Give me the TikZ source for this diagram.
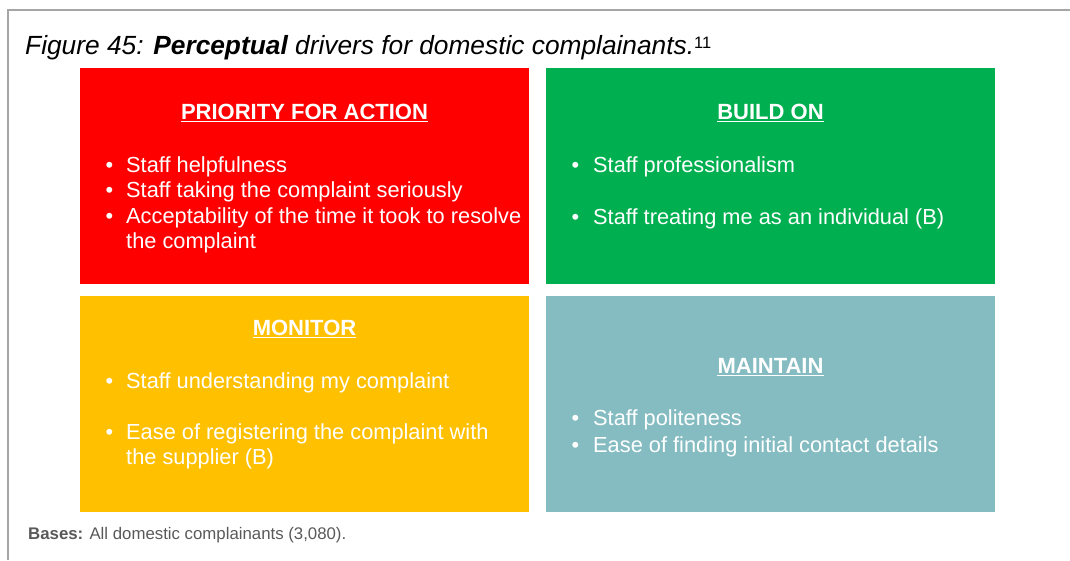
\documentclass[tikz,border=0pt]{standalone}
\usepackage{fontspec}
\setmainfont{Liberation Sans}
\definecolor{cRed}{HTML}{FF0000}
\definecolor{cGreen}{HTML}{00B050}
\definecolor{cYellow}{HTML}{FFC000}
\definecolor{cTeal}{HTML}{84BCC1}
\definecolor{cFrame}{HTML}{A6A6A6}
\definecolor{cNote}{HTML}{595959}
\begin{document}
\begin{tikzpicture}[x=1pt,y=-1pt,
  quad/.style={fill=#1, draw=none, minimum width=449pt, minimum height=216pt, inner sep=0pt, outer sep=0pt, anchor=north west},
  head/.style={text=white, font=\fontsize{22}{24}\selectfont\bfseries, inner sep=0pt, anchor=base},
  item/.style={text=white, font=\fontsize{21.8}{25}\selectfont, inner sep=0pt, anchor=base west},
  bul/.style={text=white, font=\fontsize{21.8}{25}\selectfont, inner sep=0pt, anchor=base},
  uline/.style={white, line width=1.6pt},
  frame/.style={cFrame, line width=2pt}]
\useasboundingbox (0,0) rectangle (1070,560);
% frame
\coordinate (fTL) at (8,10);
\coordinate (fTR) at (1070,10);
\coordinate (fBL) at (8,560);
\draw[frame] (fTR) -- (fTL) -- (fBL);
% title
\node[inner sep=0pt, anchor=base west, font=\fontsize{26.3}{28}\selectfont\itshape] (title) at (25,54)
  {Figure 45: \textbf{Perceptual} drivers for domestic complainants.\raisebox{6pt}{\upshape\fontsize{16.5}{16}\selectfont 11}};
% quadrants
\node[quad=cRed] (qA) at (80,68) {};
\node[quad=cGreen] (qB) at (546,68) {};
\node[quad=cYellow] (qC) at (80,296) {};
\node[quad=cTeal] (qD) at (546,296) {};
% headings
\node[head] (hA) at (304.5,119) {PRIORITY FOR ACTION};
\node[head] (hB) at (770.5,119) {BUILD ON};
\node[head] (hC) at (304.5,335) {MONITOR};
\node[head] (hD) at (770.5,373) {MAINTAIN};
\foreach \h in {hA,hB,hC,hD}{
  \draw[uline] ([yshift=-2.6pt]\h.base west) -- ([yshift=-2.6pt]\h.base east);
}
% red items
\node[bul] (bA1) at (109.5,172) {•};
\node[item] (tA1) at (126,172) {Staff helpfulness};
\node[bul] (bA2) at (109.5,197.5) {•};
\node[item] (tA2) at (126,197.5) {Staff taking the complaint seriously};
\node[bul] (bA3) at (109.5,223) {•};
\node[item] (tA3) at (126,223) {Acceptability of the time it took to resolve};
\node[item] (tA4) at (126,248.5) {the complaint};
% green items
\node[bul] (bB1) at (575.5,172) {•};
\node[item] (tB1) at (593,172) {Staff professionalism};
\node[bul] (bB2) at (575.5,224) {•};
\node[item] (tB2) at (593,224) {Staff treating me as an individual (B)};
% yellow items
\node[bul] (bC1) at (109.5,388) {•};
\node[item] (tC1) at (126,388) {Staff understanding my complaint};
\node[bul] (bC2) at (109.5,439) {•};
\node[item] (tC2) at (126,439) {Ease of registering the complaint with};
\node[item] (tC3) at (126,464) {the supplier (B)};
% teal items
\node[bul] (bD1) at (575.5,425.5) {•};
\node[item] (tD1) at (593,425.5) {Staff politeness};
\node[bul] (bD2) at (575.5,452.5) {•};
\node[item] (tD2) at (593,452.5) {Ease of finding initial contact details};
% bases note
\node[inner sep=0pt, anchor=base west, text=cNote, font=\fontsize{16.8}{18}\selectfont] (bases) at (28,539.5)
  {\textbf{Bases:} All domestic complainants (3,080).};
\end{tikzpicture}
\end{document}
